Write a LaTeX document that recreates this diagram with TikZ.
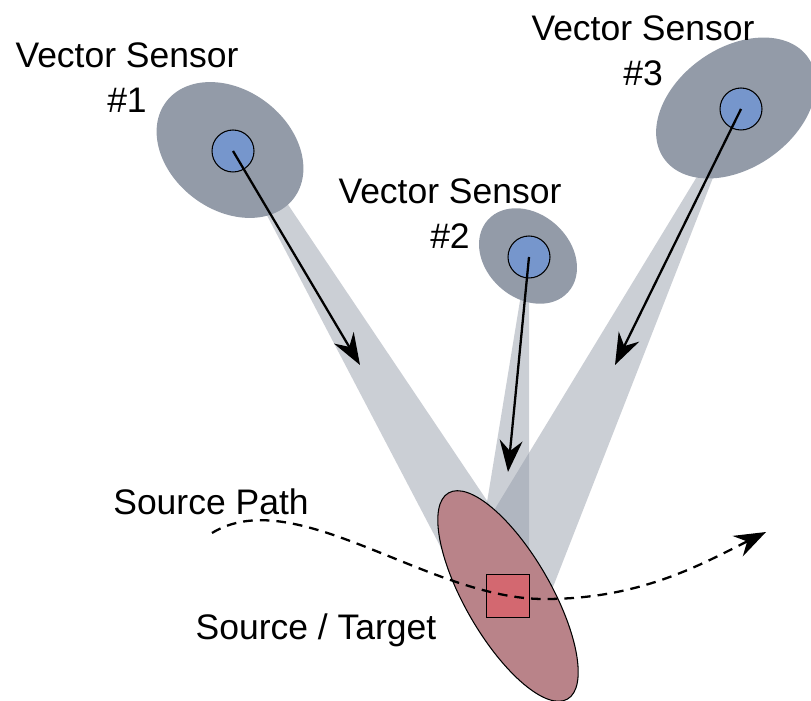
\documentclass[tikz,border=0pt]{standalone}
\usepackage{fontspec}
\setmainfont{Liberation Sans}
\usetikzlibrary{arrows.meta}
\def\firstbody{(230,550) ellipse [x radius=80, y radius=60, rotate=-37]}
\def\secondbody{(528,444) ellipse [x radius=54, y radius=42, rotate=-42]}
\def\thirdbody{(736,592) ellipse [x radius=88, y radius=60, rotate=35]}
\def\targetbody{(508,104) ellipse [x radius=119, y radius=43, rotate=-60]}
\definecolor{sensor body}{RGB}{147,155,168}
\definecolor{sensor core}{RGB}{118,150,204}
\definecolor{target body}{RGB}{185,131,137}
\definecolor{target core}{RGB}{211,104,112}
\tikzset{body/.style={fill=sensor body},
    beam/.style={fill=sensor body, fill opacity=0.48},
    core/.style={circle, fill=sensor core, draw=black, line width=0.6pt,
        minimum size=0.84cm, inner sep=0},
    hit/.style={fill=target body, draw=black, line width=0.6pt},
    spot/.style={rectangle, fill=target core, draw=black, line width=0.6pt,
        minimum size=0.86cm, inner sep=0},
    bearing/.style={line width=1.3pt, -{Stealth[length=18pt, width=13pt, inset=6pt]}},
    track/.style={bearing, dash pattern=on 5.5pt off 4pt},
    caption/.style={font=\fontsize{20.2pt}{26pt}\selectfont, align=center,
        inner sep=0, anchor=north}}

\begin{document}
\begin{tikzpicture}[x=0.02cm, y=0.02cm]
    \useasboundingbox (0,0) rectangle (811,700);
    % bearing beams
    \fill[beam] (238,540) -- (258,540) -- (500,180) -- (450,135) -- cycle;
    \fill[beam] (525,430) -- (529,430) -- (529,140) -- (480,155) -- cycle;
    \fill[beam] (701,530) -- (716,530) -- (544,90) -- (476,160) -- cycle;
    % sensors
    \fill[body] \firstbody;
    \fill[body] \secondbody;
    \fill[body] \thirdbody;
    \node[core] (s1) at (233,549) {};
    \node[core] (s2) at (529,443) {};
    \node[core] (s3) at (741,591) {};
    % source
    \draw[hit] \targetbody;
    \node[spot] (src) at (508,104) {};
    \coordinate (start) at (212,167);
    \coordinate (low) at (545,101);
    \coordinate (stop) at (766,168);
    \draw[track] (start) .. controls (295,218) and (430,100) .. (low)
        .. controls (640,101) and (700,135) .. (stop);
    % bearings
    \coordinate (t1) at (360,335);
    \coordinate (t2) at (508,228);
    \coordinate (t3) at (615,335);
    \draw[bearing] (s1.center) -- (t1);
    \draw[bearing] (s2.center) -- (t2);
    \draw[bearing] (s3.center) -- (t3);
    \node[caption] (n1) at (127,658) {Vector Sensor\\\#1};
    \node[caption] (n2) at (450,522) {Vector Sensor\\\#2};
    \node[caption] (n3) at (643,685) {Vector Sensor\\\#3};
    \node[caption] (path) at (211,212) {Source Path};
    \node[caption] (tgt) at (316,87) {Source / Target};
\end{tikzpicture}
\end{document}
